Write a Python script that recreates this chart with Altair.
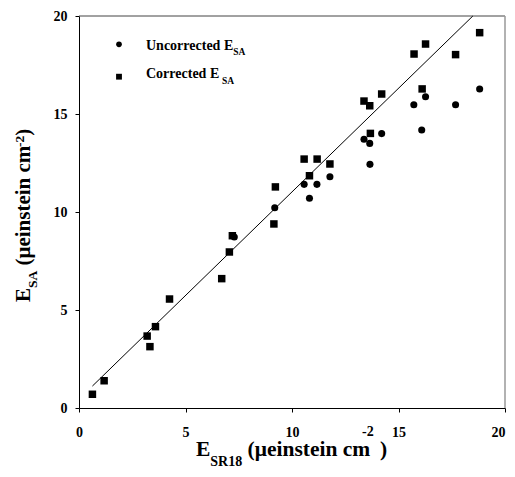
import altair as alt
import pandas as pd

FONT = "Liberation Serif"

# Corrected E_SA (squares)
cor_x = [0.63, 1.18, 3.20, 3.33, 3.59, 4.25, 6.70, 7.06, 7.20, 9.15, 9.22, 10.57, 10.82,
         11.18, 11.78, 13.38, 13.65, 13.68, 14.21, 15.73, 16.11, 16.27, 17.68, 18.81]
cor_y = [0.70, 1.39, 3.67, 3.13, 4.15, 5.56, 6.60, 7.96, 8.79, 9.39, 11.28, 12.70, 11.85,
         12.70, 12.45, 15.66, 15.42, 14.01, 16.02, 18.06, 16.28, 18.57, 18.03, 19.15]

# Uncorrected E_SA (circles)
unc_x = [7.29, 9.19, 10.57, 10.82, 11.17, 11.78, 13.38, 13.65, 13.66, 14.21, 15.72,
         16.09, 16.27, 17.68, 18.81]
unc_y = [8.72, 10.22, 11.41, 10.70, 11.41, 11.80, 13.71, 13.50, 12.43, 14.00, 15.47,
         14.18, 15.88, 15.47, 16.28]

# fitted line end points
fit_x = [0.63, 18.49]
fit_y = [1.12, 20.0]

ticks = [0, 5, 10, 15, 20]

W, H = 426, 392

xs = alt.Scale(domain=[0, 20], nice=False, zero=False)
ys = alt.Scale(domain=[0, 20], nice=False, zero=False)

axis_common = dict(
    values=ticks, title=None, grid=False, tickSize=4, labelFont=FONT,
    labelFontWeight="bold", labelFontSize=14, labelColor="black",
    domainColor="black", tickColor="black", labelFlush=False,
)
x_axis = alt.Axis(
    labelPadding=13,
    labelAlign={"condition": {"test": "datum.value >= 20", "value": "right"}, "value": "center"},
    **axis_common,
)
y_axis = alt.Axis(labelPadding=8, **axis_common)

df_cor = pd.DataFrame({"x": cor_x, "y": cor_y})
df_unc = pd.DataFrame({"x": unc_x, "y": unc_y})
df_fit = pd.DataFrame({"x": fit_x, "y": fit_y})

line = alt.Chart(df_fit).mark_line(color="black", strokeWidth=1).encode(
    x=alt.X("x:Q", scale=xs, axis=x_axis),
    y=alt.Y("y:Q", scale=ys, axis=y_axis),
)
circles = alt.Chart(df_unc).mark_point(
    shape="circle", filled=True, color="black", size=50, opacity=1
).encode(x=alt.X("x:Q", scale=xs), y=alt.Y("y:Q", scale=ys))
squares = alt.Chart(df_cor).mark_point(
    shape="square", filled=True, color="black", size=56, opacity=1
).encode(x=alt.X("x:Q", scale=xs), y=alt.Y("y:Q", scale=ys))


def txt(s, x, y, size, angle=0):
    props = dict(text=s, align="left", baseline="alphabetic", font=FONT,
                 fontWeight="bold", fontSize=size, color="black")
    if angle:
        props["angle"] = angle
    return alt.Chart(pd.DataFrame({"t": [s]})).mark_text(**props).encode(
        x=alt.value(x), y=alt.value(y)
    )


def marker(shape, x, y, size):
    return alt.Chart(pd.DataFrame({"t": [shape]})).mark_point(
        shape=shape, filled=True, color="black", size=size, opacity=1
    ).encode(x=alt.value(x), y=alt.value(y))


texts = [
    # x title: E_SR18 (μeinstein cm^-2)
    txt("E", 117, 440, 21.5),
    txt("SR18", 131.3, 450, 14),
    txt("(μeinstein cm", 168.6, 440, 21.5),
    txt("-2", 283, 420, 14),
    txt(")", 301, 440, 21.5),
    # y title: E_SA (μeinstein cm^-2)
    txt("E", -49, 286, 21, 270),
    txt("SA", -42, 272, 13.5, 270),
    txt("(μeinstein cm", -49, 249.5, 21, 270),
    txt("-2", -55, 131, 13.5, 270),
    txt(")", -49, 119.8, 21, 270),
    # legend
    txt("Uncorrected E", 67, 33.5, 14),
    txt("SA", 154.3, 39, 9.5),
    txt("Corrected E", 67, 62, 14),
    txt("SA", 143, 67.5, 9.5),
]

legend_marks = [marker("circle", 40, 28.3, 32), marker("square", 40, 60.7, 34)]

top_rule = alt.Chart(pd.DataFrame({"t": [0]})).mark_rule(color="#444", strokeWidth=1).encode(
    x=alt.value(0), x2=alt.value(W), y=alt.value(0)
)
right_rule = alt.Chart(pd.DataFrame({"t": [0]})).mark_rule(color="#999", strokeWidth=1.5).encode(
    x=alt.value(W), y=alt.value(0), y2=alt.value(H)
)

chart = alt.layer(
    top_rule, right_rule, line, circles, squares, *legend_marks, *texts
).properties(
    width=W, height=H,
    autosize=alt.AutoSizeParams(type="none"),
    padding={"left": 71, "top": 8, "right": 2, "bottom": 61},
    background="white",
).configure_view(stroke=None)

chart.save("out.html", embed_options={"renderer": "svg", "actions": False})
